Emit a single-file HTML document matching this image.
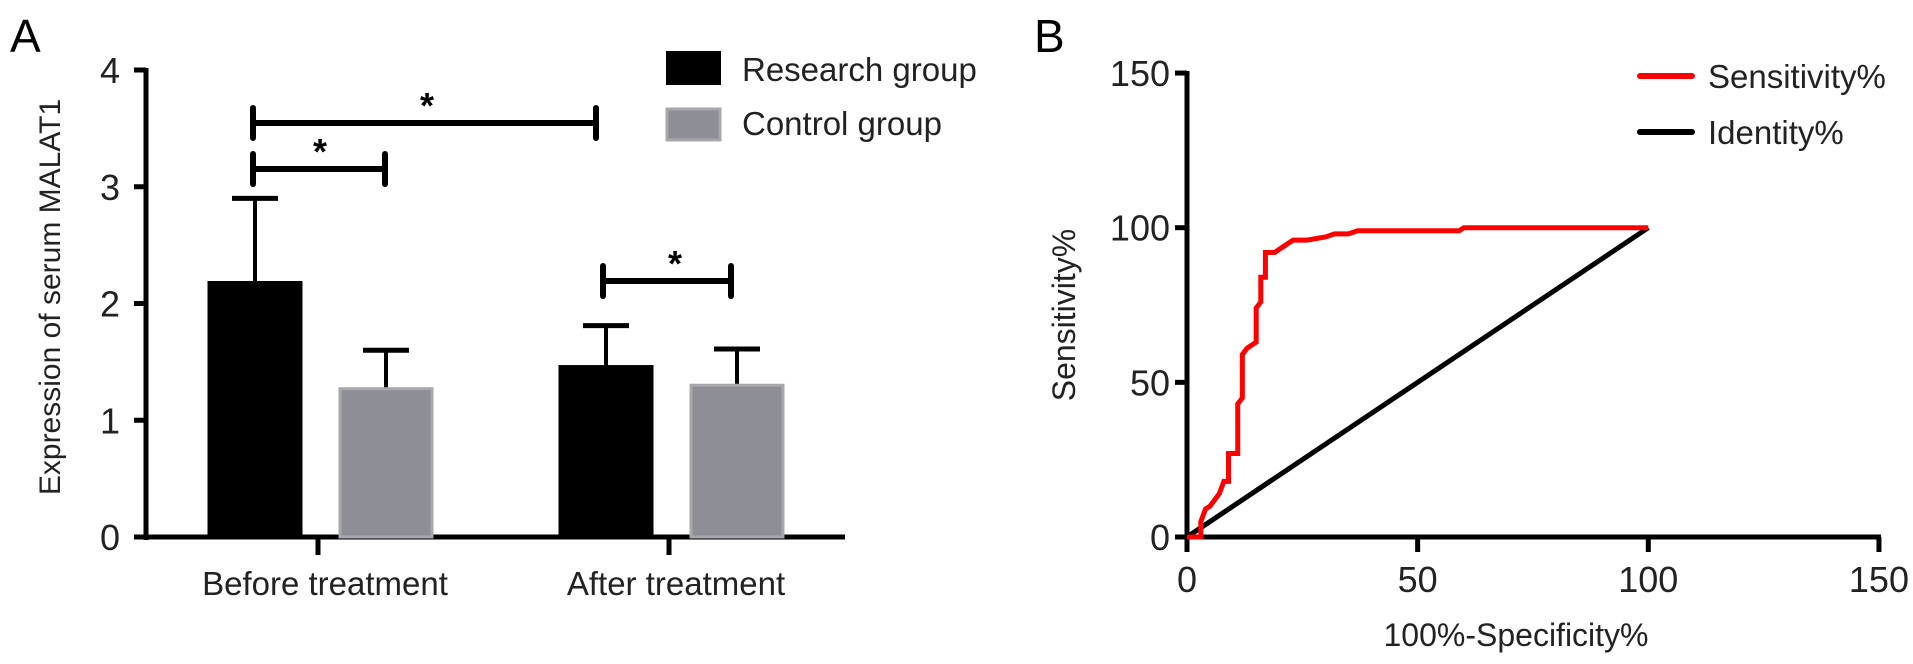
<!DOCTYPE html>
<html><head><meta charset="utf-8"><style>
html,body{margin:0;padding:0;background:#fff;}
svg{display:block;font-family:"Liberation Sans",Arial,sans-serif;}
</style></head><body>
<svg id="fig" width="1913" height="664" viewBox="0 0 1913 664">
<g id="chartA"></g>
<g id="chartB"></g>
</svg>
<script>
// ---- Chart A data ----
const aCategories = ["Before treatment", "After treatment"];
const aResearch = [2.18, 1.46];
const aResearchErr = [2.90, 1.81];
const aControl = [1.27, 1.30];
const aControlErr = [1.60, 1.61];
const aTicks = [0, 1, 2, 3, 4];
// ---- Chart B data ----
const rocFpr = [0,3,3,4,5,6,7,8,9,9,11,11,12,12,13,14,15,15,16,16,17,17,19,20,21,22,23,26,30,32,35,37,59,60,100];
const rocTpr = [0,0,5,9,10,12,14,18,18,27,27,43,45,59,61,62,63,74,76,84,84,92,92,93,94,95,96,96,97,98,98,99,99,100,100];
const idX = [0, 100];
const idY = [0, 100];
const bTicks = [0, 50, 100, 150];

const NS = "http://www.w3.org/2000/svg";
function mk(parent, tag, attrs, text) {
  const e = document.createElementNS(NS, tag);
  for (const k in attrs) e.setAttribute(k, attrs[k]);
  if (text !== undefined) e.textContent = text;
  parent.appendChild(e);
  return e;
}

// ===== Chart A =====
const A = document.getElementById("chartA");
const ay = v => 537 - v * 116.75;
const axL = 146;
let e;
e = mk(A, "text", {x: 10, y: 52, "font-size": 46}, "A");


e = mk(A, "line", {x1: axL, y1: ay(4) - 2, x2: axL, y2: 540, stroke: "#000", "stroke-width": 5});


e = mk(A, "line", {x1: axL - 2, y1: 537, x2: 845, y2: 537, stroke: "#000", "stroke-width": 5});


aTicks.forEach(t => {
  e = mk(A, "line", {x1: axL - 12, y1: ay(t), x2: axL, y2: ay(t), stroke: "#000", "stroke-width": 5});
  
  
  e = mk(A, "text", {x: 120, y: ay(t) + 13, "font-size": 36, "text-anchor": "end", fill: "#222"}, String(t));
  
  
});
e = mk(A, "text", {x: 0, y: 0, "font-size": 30, "text-anchor": "middle", fill: "#222", transform: "translate(60,297) rotate(-90)"}, "Expression of serum MALAT1");



const groupCenters = [318, 669];
const barW = 92;
aCategories.forEach((c, i) => {
  const gc = groupCenters[i];
  e = mk(A, "line", {x1: gc, y1: 537, x2: gc, y2: 555, stroke: "#000", "stroke-width": 5});
  
  
  e = mk(A, "text", {x: gc + 7, y: 595, "font-size": 33, "text-anchor": "middle", fill: "#222"}, c);
  
  
  const series = [[aResearch, aResearchErr, "#000", "#000", -63], [aControl, aControlErr, "#8e8e96", "#a8a8ac", 68]];
  series.forEach((s, j) => {
    const cx = gc + s[4];
    e = mk(A, "line", {x1: cx, y1: ay(s[0][i]), x2: cx, y2: ay(s[1][i]), stroke: "#000", "stroke-width": 4});
    
    
    e = mk(A, "line", {x1: cx - 23, y1: ay(s[1][i]), x2: cx + 23, y2: ay(s[1][i]), stroke: "#000", "stroke-width": 5});
    
    
    e = mk(A, "rect", {x: cx - barW / 2, y: ay(s[0][i]), width: barW, height: 537 - ay(s[0][i]), fill: s[2], stroke: s[3], "stroke-width": 3});
    
    
  });
});
function bracket(x1, x2, y, sx, sy) {
  const g = mk(A, "g", {});
  
  
  mk(g, "line", {x1: x1, y1: y, x2: x2, y2: y, stroke: "#000", "stroke-width": 6});
  mk(g, "line", {x1: x1, y1: y - 15, x2: x1, y2: y + 15, stroke: "#000", "stroke-width": 6, "stroke-linecap": "round"});
  mk(g, "line", {x1: x2, y1: y - 15, x2: x2, y2: y + 15, stroke: "#000", "stroke-width": 6, "stroke-linecap": "round"});
  mk(g, "text", {x: sx, y: sy, "font-size": 36, "text-anchor": "middle", "font-weight": "bold"}, "*");
}
bracket(253, 596, 123, 427, 118);
bracket(253, 385, 169, 320, 164);
bracket(603, 731, 281, 675, 276);
e = mk(A, "rect", {x: 666, y: 51, width: 55, height: 34, fill: "#000"});


e = mk(A, "text", {x: 742, y: 81, "font-size": 33, fill: "#222"}, "Research group");


e = mk(A, "rect", {x: 667, y: 109, width: 53, height: 31, fill: "#8e8e96", stroke: "#a8a8ac", "stroke-width": 3});


e = mk(A, "text", {x: 742, y: 135, "font-size": 33, fill: "#222"}, "Control group");



// ===== Chart B =====
const B = document.getElementById("chartB");
const bx = v => 1187 + v * 4.613;
const by = v => 537 - v * 3.093;
e = mk(B, "text", {x: 1034, y: 52, "font-size": 46}, "B");


e = mk(B, "line", {x1: bx(0), y1: by(150) - 2, x2: bx(0), y2: 552, stroke: "#000", "stroke-width": 5});


e = mk(B, "line", {x1: 1175, y1: 537, x2: bx(150) + 2, y2: 537, stroke: "#000", "stroke-width": 5});


bTicks.forEach(t => {
  e = mk(B, "line", {x1: bx(0) - 12, y1: by(t), x2: bx(0), y2: by(t), stroke: "#000", "stroke-width": 5});
  
  
  e = mk(B, "text", {x: 1170, y: by(t) + 13, "font-size": 36, "text-anchor": "end", fill: "#222"}, String(t));
  
  
  e = mk(B, "line", {x1: bx(t), y1: 537, x2: bx(t), y2: 552, stroke: "#000", "stroke-width": 5});
  
  
  e = mk(B, "text", {x: bx(t), y: 592, "font-size": 36, "text-anchor": "middle", fill: "#222"}, String(t));
  
  
});
e = mk(B, "text", {x: 1516, y: 646, "font-size": 32, "text-anchor": "middle", fill: "#222"}, "100%-Specificity%");


e = mk(B, "text", {x: 0, y: 0, "font-size": 32, "text-anchor": "middle", fill: "#222", transform: "translate(1075,315) rotate(-90)"}, "Sensitivity%");


e = mk(B, "polyline", {points: idX.map((v, i) => bx(v) + "," + by(idY[i])).join(" "), fill: "none", stroke: "#000", "stroke-width": 5});


e = mk(B, "polyline", {points: rocFpr.map((v, i) => bx(v) + "," + by(rocTpr[i])).join(" "), fill: "none", stroke: "#ff0000", "stroke-width": 5, "stroke-linejoin": "miter"});


e = mk(B, "line", {x1: 1640, y1: 76, x2: 1692, y2: 76, stroke: "#ff0000", "stroke-width": 6, "stroke-linecap": "round"});


e = mk(B, "text", {x: 1708, y: 88, "font-size": 33, fill: "#222"}, "Sensitivity%");


e = mk(B, "line", {x1: 1640, y1: 132, x2: 1692, y2: 132, stroke: "#000", "stroke-width": 6, "stroke-linecap": "round"});


e = mk(B, "text", {x: 1708, y: 144, "font-size": 33, fill: "#222"}, "Identity%");


</script>
</body></html>
